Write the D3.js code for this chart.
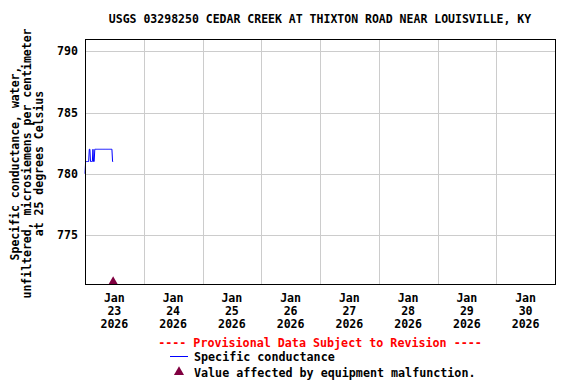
<!DOCTYPE html>
<html>
<head>
<meta charset="utf-8">
<script src="https://cdn.jsdelivr.net/npm/d3@7"></script>
<style>
  body { margin: 0; background: #fff; }
  text { font-family: "DejaVu Sans Mono", monospace; font-weight: bold; }
</style>
</head>
<body>
<div id="chart"></div>
<script>
// chart data
var title = "USGS 03298250 CEDAR CREEK AT THIXTON ROAD NEAR LOUISVILLE, KY";
var yLabelLines = ["Specific conductance, water,", "unfiltered, microsiemens per centimeter", "at 25 degrees Celsius"];
var yTicks = [775, 780, 785, 790];
var dayLabels = ["23", "24", "25", "26", "27", "28", "29", "30"];
var startTime = "2026-01-23T00:00";
var stepMinutes = 15;
// 15-minute readings, microsiemens
var condValues = [780, 781, 781, 781, 781, 781, 781, 782, 782, 781, 781, 781, 781, 782, 781, 781,
    782, 782, 782, 782, 782, 782, 782, 782, 782, 782, 782, 782, 782, 782, 782, 782,
    782, 782, 782, 782, 782, 782, 782, 782, 782, 782, 782, 782, 782, 781, 781];
var malfunctionIndex = [46];

var width = 576, height = 384;
var margin = {left: 85, top: 39, right: 21, bottom: 100};

var parse = d3.timeParse("%Y-%m-%dT%H:%M");
var t0 = parse(startTime);
var data = condValues.map(function (v, i) {
    return {t: d3.timeMinute.offset(t0, i * stepMinutes), v: v};
});

var svg = d3.select("#chart").append("svg")
    .attr("width", width)
    .attr("height", height);

var x = d3.scaleTime()
    .domain([new Date(2026, 0, 23), new Date(2026, 0, 31)])
    .range([margin.left, width - margin.right]);
var y = d3.scaleLinear()
    .domain([771, 791])
    .range([height - margin.bottom, margin.top]);

// grid
var days = d3.timeDay.range(new Date(2026, 0, 24), new Date(2026, 0, 31));
svg.append("g").selectAll("line.vgrid")
    .data(days)
    .enter().append("line")
    .attr("class", "vgrid")
    .attr("x1", function (d) { return Math.round(x(d)) + 0.5; })
    .attr("x2", function (d) { return Math.round(x(d)) + 0.5; })
    .attr("y1", y.range()[1])
    .attr("y2", y.range()[0])
    .attr("stroke", "#cccccc");

svg.append("g").selectAll("line.hgrid")
    .data(yTicks)
    .enter().append("line")
    .attr("class", "hgrid")
    .attr("x1", x.range()[0])
    .attr("x2", x.range()[1])
    .attr("y1", function (d) { return Math.round(y(d)) + 0.5; })
    .attr("y2", function (d) { return Math.round(y(d)) + 0.5; })
    .attr("stroke", "#cccccc");

// y axis
var yAxis = d3.axisLeft(y).tickValues(yTicks).tickSize(0).tickPadding(7);
svg.append("g")
    .attr("transform", "translate(" + margin.left + ",0)")
    .call(yAxis)
    .call(function (g) { g.select(".domain").remove(); })
    .selectAll("text")
    .style("font-size", "11.6px")
    .attr("fill", "#000");

// x labels centred at noon
var noons = dayLabels.map(function (d) { return new Date(2026, 0, +d, 12); });
var xl = svg.append("g").selectAll("text.xlab")
    .data(noons)
    .enter().append("text")
    .attr("class", "xlab")
    .attr("text-anchor", "middle")
    .style("font-size", "11.6px")
    .attr("x", function (d) { return x(d); });
xl.append("tspan").attr("x", function (d) { return x(d); }).attr("y", 302).text("Jan");
xl.append("tspan").attr("x", function (d) { return x(d); }).attr("y", 315).text(function (d, i) { return dayLabels[i]; });
xl.append("tspan").attr("x", function (d) { return x(d); }).attr("y", 328).text("2026");

// data line
var line = d3.line()
    .x(function (d) { return x(d.t); })
    .y(function (d) { return y(d.v); });
svg.append("path")
    .datum(data)
    .attr("fill", "none")
    .attr("stroke", "#0000ff")
    .attr("stroke-width", 1)
    .attr("d", line);

// malfunction markers at bottom of plot
var tri = d3.symbol().type(d3.symbolTriangle).size(36);
svg.append("g").selectAll("path.flag")
    .data(malfunctionIndex)
    .enter().append("path")
    .attr("class", "flag")
    .attr("d", tri)
    .attr("fill", "#800040")
    .attr("transform", function (d) {
        return "translate(" + x(data[d].t) + "," + (y.range()[0] - 2.5) + ")";
    });

// frame
svg.append("rect")
    .attr("x", margin.left + 0.5)
    .attr("y", margin.top + 0.5)
    .attr("width", x.range()[1] - x.range()[0])
    .attr("height", y.range()[0] - y.range()[1])
    .attr("fill", "none")
    .attr("stroke", "#000");

// title
svg.append("text")
    .attr("x", 320)
    .attr("y", 23)
    .attr("text-anchor", "middle")
    .style("font-size", "11.5px")
    .text(title);

// y label
var yl = svg.append("text")
    .attr("transform", "translate(0," + ((y.range()[0] + y.range()[1]) / 2 + 2) + ") rotate(-90)")
    .attr("text-anchor", "middle")
    .style("font-size", "11.5px");
yLabelLines.forEach(function (s, i) {
    yl.append("tspan").attr("x", 0).attr("y", 19 + i * 12).text(s);
});

// legend
svg.append("text")
    .attr("x", 320)
    .attr("y", 347)
    .attr("text-anchor", "middle")
    .attr("fill", "#ff0000")
    .style("font-size", "11.7px")
    .text("---- Provisional Data Subject to Revision ----");

svg.append("line")
    .attr("x1", 170).attr("x2", 188)
    .attr("y1", 356.5).attr("y2", 356.5)
    .attr("stroke", "#0000ff");
svg.append("text")
    .attr("x", 194).attr("y", 361)
    .style("font-size", "11.7px")
    .text("Specific conductance");

svg.append("path")
    .attr("d", d3.symbol().type(d3.symbolTriangle).size(44))
    .attr("fill", "#800040")
    .attr("transform", "translate(179,372)");
svg.append("text")
    .attr("x", 194).attr("y", 377)
    .style("font-size", "11.7px")
    .text("Value affected by equipment malfunction.");
</script>
</body>
</html>
